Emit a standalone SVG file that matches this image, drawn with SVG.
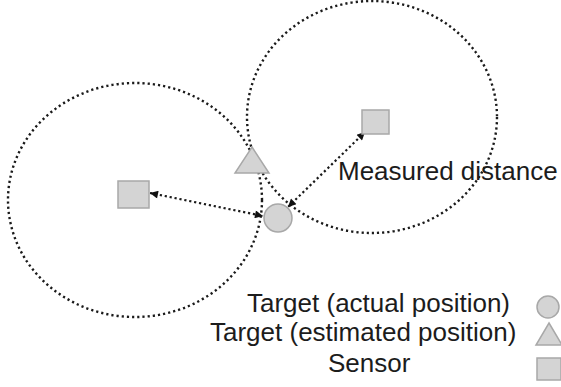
<svg xmlns="http://www.w3.org/2000/svg" width="561" height="387" viewBox="0 0 561 387">
  <defs>
    <style>
      .range { fill: none; stroke: #1a1a1a; stroke-width: 2.4; stroke-dasharray: 2.2 3; }
      .link { fill: none; stroke: #1a1a1a; stroke-width: 2.2; stroke-dasharray: 2.2 2.8; }
      .shape { fill: #d4d4d4; stroke: #a8a8a8; stroke-width: 1.5; }
      .lbl { font-family: "Liberation Sans", Arial, sans-serif; font-size: 26px; fill: #1c1c1c; }
    </style>
    <marker id="ah" viewBox="0 0 10 10" refX="10" refY="5" markerWidth="10" markerHeight="8" markerUnits="userSpaceOnUse" orient="auto-start-reverse">
      <path d="M0,0 L10,5 L0,10 Z" fill="#111"/>
    </marker>
  </defs>
  <rect width="561" height="387" fill="#fff"/>

  <g id="connectors">
    <ellipse id="range-left" class="range" cx="135" cy="200" rx="127" ry="117"/>
    <ellipse id="range-right" class="range" cx="372" cy="117" rx="125" ry="116"/>
    <line id="dist-left" class="link" x1="150" y1="193" x2="263" y2="216" marker-start="url(#ah)" marker-end="url(#ah)"/>
    <line id="dist-right" class="link" x1="365" y1="132" x2="288" y2="207" marker-start="url(#ah)" marker-end="url(#ah)"/>
  </g>

  <g id="sensor-left">
    <rect class="shape" x="118" y="181" width="31" height="27"/>
  </g>
  <g id="sensor-right">
    <rect class="shape" x="362" y="110" width="27" height="24"/>
  </g>
  <g id="target-estimated">
    <polygon class="shape" points="252,147 269,173 235,173"/>
  </g>
  <g id="target-actual">
    <circle class="shape" cx="278" cy="218" r="14"/>
  </g>

  <g id="label-distance">
    <text class="lbl" x="338" y="180">Measured distance</text>
  </g>

  <g id="legend">
    <text class="lbl" x="247" y="312">Target (actual position)</text>
    <text class="lbl" x="210" y="341">Target (estimated position)</text>
    <text class="lbl" x="328" y="372">Sensor</text>
    <circle class="shape" cx="548" cy="307" r="11"/>
    <polygon class="shape" points="549,323 562,345 536,345"/>
    <rect class="shape" x="537" y="358" width="24" height="22"/>
  </g>
</svg>
